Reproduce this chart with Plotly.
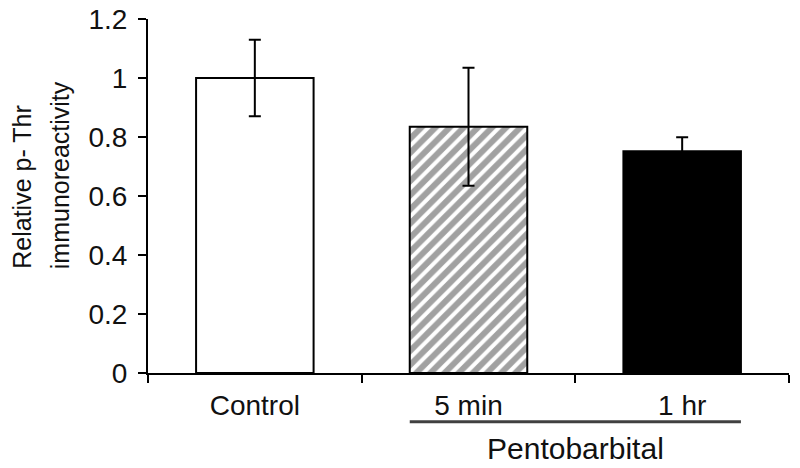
import plotly.graph_objects as go

# Data
groups = ['Control', '5 min', '1 hr']
values = [1.0, 0.835, 0.752]
errors = [0.13, 0.2, 0.047]
bar_colors = ['white', 'white', 'black']
bar_patterns = ['', '/', '']
y_ticks = [0, 0.2, 0.4, 0.6, 0.8, 1, 1.2]
y_ticktext = ['0', '0.2', '0.4', '0.6', '0.8', '1', '1.2']
y_title_lines = ['Relative p- Thr', 'immunoreactivity']
group_label = 'Pentobarbital'

FONT = 'Liberation Sans, Arial, sans-serif'

fig = go.Figure()
fig.add_trace(go.Bar(
    x=groups, y=values,
    width=0.55,
    marker=dict(
        color=bar_colors,
        line=dict(color='black', width=2),
        pattern=dict(shape=bar_patterns, fgcolor='black',
                     size=10, solidity=0.6, fillmode='overlay'),
    ),
    error_y=dict(type='data', array=errors, color='black', thickness=2, width=6),
    showlegend=False,
))

# Group bracket under the two pentobarbital bars
fig.add_shape(type='line', xref='x', yref='paper',
              x0=1 - 0.275, x1=2 + 0.275, y0=-0.138, y1=-0.138,
              line=dict(color='#404040', width=3))
fig.add_annotation(text=group_label, xref='x', yref='paper',
                   x=1.5, y=-0.212, showarrow=False,
                   xanchor='center', yanchor='middle',
                   font=dict(family=FONT, size=30, color='#111'))

# Y-axis title, two rotated lines aligned at their start
for xp, line in zip([-0.197, -0.137], y_title_lines):
    fig.add_annotation(text=line, xref='paper', yref='paper',
                       x=xp, y=0.288, showarrow=False, textangle=-90,
                       xanchor='center', yanchor='bottom',
                       font=dict(family=FONT, size=25, color='#111'))

# page body adds an 8px offset, so the figure is shrunk by that much
fig.update_layout(
    width=792, height=460,
    margin=dict(l=140, r=11, t=11, b=95),
    paper_bgcolor='white', plot_bgcolor='white',
    font=dict(family=FONT, size=28, color='#111'),
    xaxis=dict(
        automargin=False,
        showline=True, linecolor='black', linewidth=2,
        ticks='outside', ticklen=8, tickwidth=2, tickcolor='black',
        tickson='boundaries', showgrid=False,
        ticklabelstandoff=6,
        range=[-0.5, 2.5],
    ),
    yaxis=dict(
        automargin=False,
        range=[0, 1.2001],
        tickmode='array', tickvals=y_ticks, ticktext=y_ticktext,
        ticklabeloverflow='allow',
        showline=True, linecolor='black', linewidth=2,
        ticks='outside', ticklen=8, tickwidth=2, tickcolor='black',
        showgrid=False, zeroline=False,
        ticklabelstandoff=5,
    ),
)

fig.write_html('out.html')
